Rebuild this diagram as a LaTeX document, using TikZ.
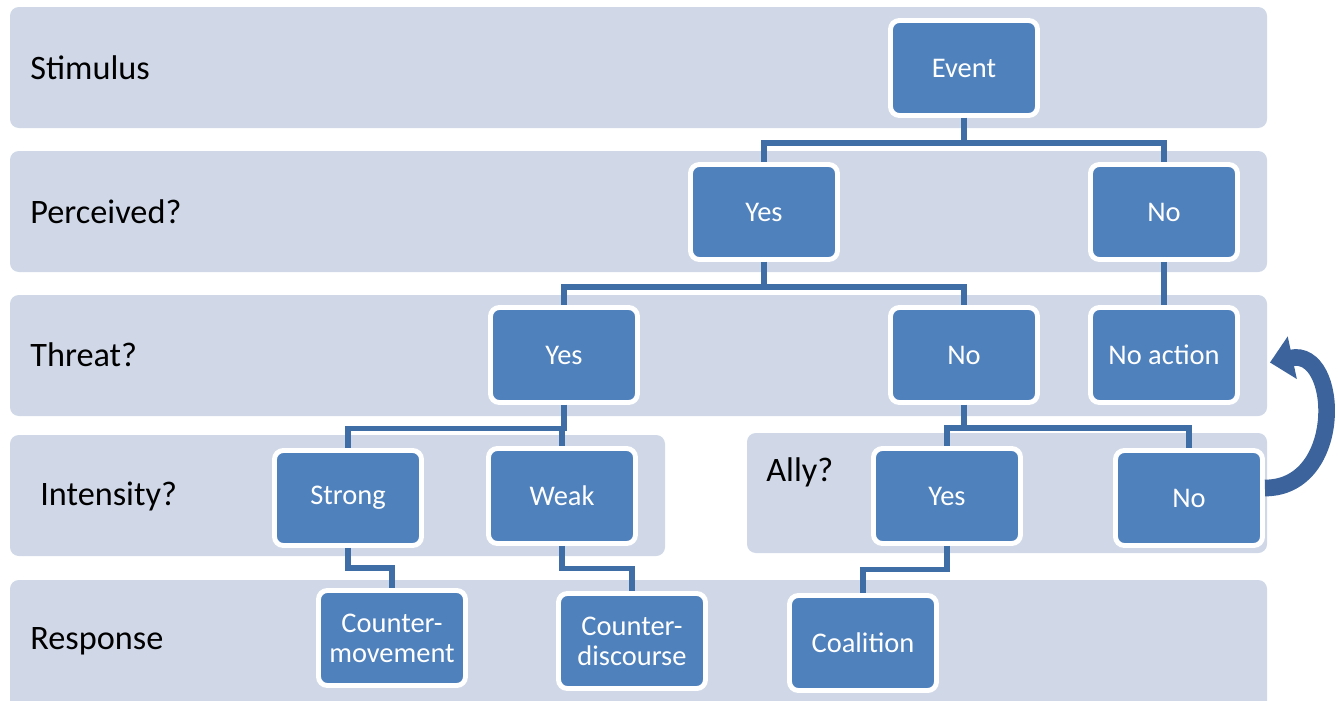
\documentclass[tikz,border=0pt]{standalone}
\usepackage{fontspec}
\setmainfont{Carlito}
\usepackage{tikz}
\usetikzlibrary{calc,positioning,arrows.meta}
\definecolor{band}{RGB}{208,216,232}
\definecolor{boxb}{RGB}{79,129,189}
\definecolor{lnk}{RGB}{63,109,166}
\definecolor{arw}{RGB}{60,99,155}

\begin{document}
\begin{tikzpicture}[x=0.02cm,y=-0.02cm,
  bandbox/.style={fill=band,rounded corners=5pt},
  lbl/.style={anchor=west,font=\fontsize{19.5}{22}\selectfont,inner sep=0},
  stage/.style={draw=white,line width=2.8pt,fill=boxb,rounded corners=5pt,
    minimum width=2.94cm,minimum height=1.9cm,text=white,align=center,
    font=\fontsize{16.2}{17}\selectfont,inner sep=2pt},
  link/.style={draw=lnk,line width=3pt}]
\useasboundingbox(0,0)rectangle(1338,700);
% bandes
\fill[bandbox](10,7)rectangle(1267,128);
\fill[bandbox](10,151)rectangle(1267,272);
\fill[bandbox](10,295)rectangle(1267,416);
\fill[bandbox](10,435)rectangle(665,556);
\fill[bandbox](747,433)rectangle(1267,553);
\fill[bandbox](10,580)rectangle(1267,712);
\node[lbl](stim)at(30,68){Stimulus};
\node[lbl](perc)at(30,212){Perceived?};
\node[lbl](thr)at(30,355){Threat?};
\node[lbl](inten)at(40,496){Intensity?};
\node[lbl](ally)at(766,472){Ally?};
\node[lbl](resp)at(30,641){Response};
% boites
\node[stage](event)at(964,68){Event};
\node[stage](pyes)at(764,212){Yes};
\node[stage](pno)at(1164,212){No};
\node[stage](tyes)at(564,355){Yes};
\node[stage](tno)at(964,355){No};
\node[stage](noact)at(1164,355){No action};
\node[stage](strong)at(348,498){Strong};
\node[stage](weak)at(562,496){Weak};
\node[stage](ayes)at(947,496){Yes};
\node[stage](ano)at(1189,498){No};
\node[stage](cmove)at(392,638){Counter-\\movement};
\node[stage](cdisc)at(632,641){Counter-\\discourse};
\node[stage](coal)at(863,643){Coalition};
% liens
\draw[link](event.south)--++(0,-0.5cm)-|(pyes.north);
\draw[link](event.south)--++(0,-0.5cm)-|(pno.north);
\draw[link](pyes.south)--++(0,-0.5cm)-|(tyes.north);
\draw[link](pyes.south)--++(0,-0.5cm)-|(tno.north);
\draw[link](pno.south)--(noact.north);
\draw[link](tyes.south)--++(0,-0.47cm)-|(strong.north);
\draw[link](tyes.south)--++(0,-0.47cm)-|(weak.north);
\draw[link](tno.south)--++(0,-0.46cm)-|(ayes.north);
\draw[link](tno.south)--++(0,-0.46cm)-|(ano.north);
\draw[link](strong.south)--++(0,-0.4cm)-|(cmove.north);
\draw[link](weak.south)--++(0,-0.45cm)-|(cdisc.north);
\draw[link](ayes.south)--++(0,-0.47cm)-|(coal.north);
% fleche courbe
\coordinate(astart)at($(ano.east)+(0,0.2cm)$);
\coordinate(aend)at($(noact.east)+(0.6cm,-0.15cm)$);
\draw[draw=arw,line width=9.5pt,-{Triangle[width=24pt,length=13pt]}]
  (astart)..controls($(astart)+(1.6cm,0)$)and($(aend)+(1.4cm,0.3cm)$)..(aend);
\end{tikzpicture}
\end{document}
